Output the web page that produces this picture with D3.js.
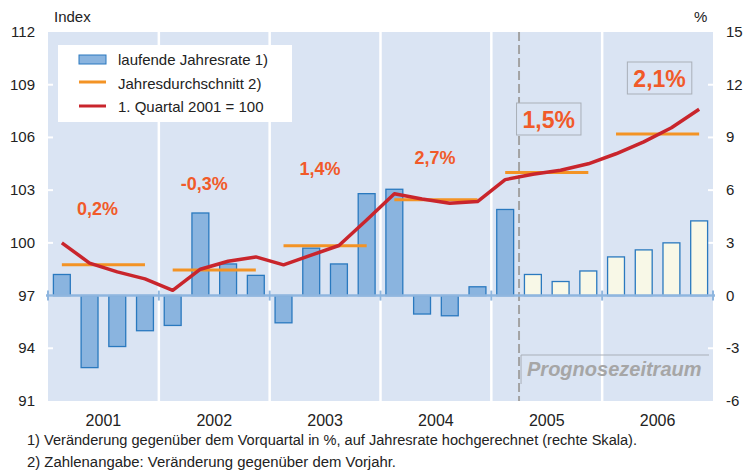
<!DOCTYPE html>
<html>
<head>
<meta charset="utf-8">
<script src="https://cdn.jsdelivr.net/npm/d3@7"></script>
<style>
  body { margin: 0; background: #fff; }
  svg text { font-family: "Liberation Sans", Arial, sans-serif; }
</style>
</head>
<body>
<div id="chart"></div>
<script>
var years = ["2001", "2002", "2003", "2004", "2005", "2006"];
var quarters = [];
years.forEach(y => { for (var q = 1; q <= 4; q++) quarters.push(y + "Q" + q); });

// laufende Jahresrate (rechte Skala, %)
var rate = [1.2, -4.1, -2.9, -2.0,
            -1.7, 4.7, 1.8, 1.15,
            -1.55, 2.7, 1.8, 5.8,
            6.05, -1.05, -1.15, 0.5,
            4.9, 1.2, 0.8, 1.4,
            2.2, 2.6, 3.0, 4.25];
// 1. Quartal 2001 = 100 (linke Skala)
var indexVals = [100.0, 98.85, 98.35, 97.95,
                 97.3, 98.5, 98.95, 99.2,
                 98.75, 99.3, 99.85, 101.3,
                 102.8, 102.5, 102.25, 102.35,
                 103.6, 103.9, 104.13, 104.5,
                 105.07, 105.75, 106.55, 107.6];
// Jahresdurchschnitt (linke Skala)
var yearAvg = [98.75, 98.46, 99.83, 102.46, 104.0, 106.2];
var yearLabels = ["0,2%", "-0,3%", "1,4%", "2,7%", "1,5%", "2,1%"];
var forecastFrom = "2005Q2";

var leftTicks = [91, 94, 97, 100, 103, 106, 109, 112];
var rightTicks = [-6, -3, 0, 3, 6, 9, 12, 15];

// label placement (layout only)
var labelPos = [
  {dx: -6, y: 215, size: 18, box: false},
  {dx: -10, y: 190, size: 18, box: false},
  {dx: -5, y: 175, size: 18, box: false},
  {dx: -1, y: 164, size: 18, box: false},
  {dx: 2, y: 128, size: 23, box: true},
  {dx: 2, y: 87, size: 23, box: true}
];

var W = 748, H = 470;
var plot = {left: 48, right: 713, top: 32, bottom: 401};

var svg = d3.select('#chart').append('svg')
  .attr('width', W).attr('height', H);

var x = d3.scaleBand().domain(quarters).range([plot.left, plot.right]).paddingInner(0.39).paddingOuter(0.195);
var xYear = d3.scaleBand().domain(years).range([plot.left, plot.right]);
var yL = d3.scaleLinear().domain([91, 112]).range([plot.bottom, plot.top]);
var yR = d3.scaleLinear().domain([-6, 15]).range([plot.bottom, plot.top]);

// background
svg.append('rect')
  .attr('x', plot.left).attr('y', plot.top)
  .attr('width', plot.right - plot.left).attr('height', plot.bottom - plot.top)
  .attr('fill', '#dae4f3');

// year separators
svg.selectAll('.sep')
  .data(years.slice(1))
  .enter().append('line')
  .attr('x1', d => xYear(d)).attr('x2', d => xYear(d))
  .attr('y1', plot.top).attr('y2', plot.bottom)
  .attr('stroke', '#fff').attr('stroke-width', 2.5);

// white ticks on plot edges
svg.selectAll('.tl')
  .data(leftTicks.slice(1, -1))
  .enter().append('line')
  .attr('x1', plot.left).attr('x2', plot.left + 5)
  .attr('y1', d => yL(d)).attr('y2', d => yL(d))
  .attr('stroke', '#fff').attr('stroke-width', 2);
svg.selectAll('.tr')
  .data(rightTicks.slice(1, -1))
  .enter().append('line')
  .attr('x1', plot.right - 5).attr('x2', plot.right)
  .attr('y1', d => yR(d)).attr('y2', d => yR(d))
  .attr('stroke', '#fff').attr('stroke-width', 2);

// dashed forecast line
var fx = x(forecastFrom) - x.step() * x.paddingInner() / 2;
svg.append('line')
  .attr('x1', fx).attr('x2', fx)
  .attr('y1', plot.top).attr('y2', plot.bottom)
  .attr('stroke', '#a3a3a3').attr('stroke-width', 2)
  .attr('stroke-dasharray', '9,4');

// bars
var fIdx = quarters.indexOf(forecastFrom);
svg.selectAll('.bar')
  .data(rate)
  .enter().append('rect')
  .attr('x', (d, i) => x(quarters[i]))
  .attr('y', d => yR(Math.max(0, d)))
  .attr('width', x.bandwidth())
  .attr('height', d => Math.abs(yR(d) - yR(0)))
  .attr('fill', (d, i) => i >= fIdx ? '#f8f8e7' : '#8ab4df')
  .attr('stroke', '#2a79bf').attr('stroke-width', 1.3);

// zero line with ticks
svg.append('line')
  .attr('x1', plot.left - 2).attr('x2', plot.right + 2)
  .attr('y1', yR(0)).attr('y2', yR(0))
  .attr('stroke', '#8fb6df').attr('stroke-width', 2.5);
svg.selectAll('.zt')
  .data([plot.left].concat(years.slice(1).map(d => xYear(d)), [plot.right]))
  .enter().append('line')
  .attr('x1', d => d).attr('x2', d => d)
  .attr('y1', yR(0) - 5).attr('y2', yR(0) + 5)
  .attr('stroke', '#8fb6df').attr('stroke-width', 2);

// annual average lines
svg.selectAll('.avg')
  .data(yearAvg)
  .enter().append('line')
  .attr('x1', (d, i) => x(years[i] + 'Q1') + x.bandwidth() / 2)
  .attr('x2', (d, i) => x(years[i] + 'Q4') + x.bandwidth() / 2)
  .attr('y1', d => yL(d)).attr('y2', d => yL(d))
  .attr('stroke', '#f39325').attr('stroke-width', 3);

// index line
var line = d3.line()
  .x((d, i) => x(quarters[i]) + x.bandwidth() / 2)
  .y(d => yL(d));
svg.append('path')
  .datum(indexVals)
  .attr('d', line)
  .attr('fill', 'none')
  .attr('stroke', '#c9252c').attr('stroke-width', 3.5)
  .attr('stroke-linejoin', 'round');

// year change labels
yearLabels.forEach((t, i) => {
  var p = labelPos[i];
  var cx = xYear(years[i]) + xYear.bandwidth() / 2 + p.dx;
  var txt = svg.append('text')
    .attr('x', cx).attr('y', p.y)
    .attr('text-anchor', 'middle')
    .attr('font-weight', 'bold')
    .attr('font-size', p.size)
    .attr('fill', '#f15a29')
    .text(t);
  if (p.box) {
    var b = txt.node().getBBox();
    svg.insert('rect', function () { return txt.node(); })
      .attr('x', b.x - 6).attr('y', b.y - 4)
      .attr('width', b.width + 12).attr('height', b.height + 6)
      .attr('fill', '#dae4f3')
      .attr('stroke', '#a9afb8').attr('stroke-width', 1);
  }
});

// Prognosezeitraum
svg.append('path')
  .attr('d', `M${fx + 2},${plot.bottom - 17}V355H709`)
  .attr('fill', 'none').attr('stroke', '#a9afb8').attr('stroke-width', 1);
svg.append('text')
  .attr('x', fx + 8).attr('y', 376)
  .attr('font-size', 20).attr('font-weight', 'bold').attr('font-style', 'italic')
  .attr('fill', '#a6a6a6')
  .text('Prognosezeitraum');

// legend
svg.append('rect')
  .attr('x', 58).attr('y', 45).attr('width', 234).attr('height', 77)
  .attr('fill', '#fff');
svg.append('rect')
  .attr('x', 79).attr('y', 55).attr('width', 27).attr('height', 9)
  .attr('fill', '#8ab4df').attr('stroke', '#2a79bf').attr('stroke-width', 1);
svg.append('line')
  .attr('x1', 79).attr('x2', 106).attr('y1', 82).attr('y2', 82)
  .attr('stroke', '#f39325').attr('stroke-width', 3);
svg.append('line')
  .attr('x1', 79).attr('x2', 106).attr('y1', 106).attr('y2', 106)
  .attr('stroke', '#c9252c').attr('stroke-width', 3);
["laufende Jahresrate 1)", "Jahresdurchschnitt 2)", "1. Quartal 2001 = 100"].forEach((t, i) => {
  svg.append('text')
    .attr('x', 118).attr('y', 65 + i * 23.5)
    .attr('font-size', 15).attr('fill', '#222')
    .text(t);
});

// axis labels
svg.selectAll('.ll')
  .data(leftTicks)
  .enter().append('text')
  .attr('x', 35).attr('y', d => yL(d) + 5)
  .attr('text-anchor', 'end').attr('font-size', 15).attr('fill', '#222')
  .text(d => d);
svg.selectAll('.rl')
  .data(rightTicks)
  .enter().append('text')
  .attr('x', 726).attr('y', d => yR(d) + 5)
  .attr('font-size', 15).attr('fill', '#222')
  .text(d => d);
svg.append('text').attr('x', 54).attr('y', 22).attr('font-size', 15).attr('fill', '#222').text('Index');
svg.append('text').attr('x', 694).attr('y', 22).attr('font-size', 15).attr('fill', '#222').text('%');

// year labels
svg.selectAll('.yl')
  .data(years)
  .enter().append('text')
  .attr('x', d => xYear(d) + xYear.bandwidth() / 2)
  .attr('y', 426)
  .attr('text-anchor', 'middle')
  .attr('font-size', 16).attr('fill', '#222')
  .text(d => d);

// footnotes
var notes = [
  {t: "1) Veränderung gegenüber dem Vorquartal in %, auf Jahresrate hochgerechnet (rechte Skala).", w: 610},
  {t: "2) Zahlenangabe: Veränderung gegenüber dem Vorjahr.", w: 369}
];
notes.forEach((n, i) => {
  svg.append('text')
    .attr('x', 27).attr('y', 445 + i * 22)
    .attr('font-size', 14).attr('fill', '#222')
    .attr('textLength', n.w).attr('lengthAdjust', 'spacingAndGlyphs')
    .text(n.t);
});
</script>
</body>
</html>
